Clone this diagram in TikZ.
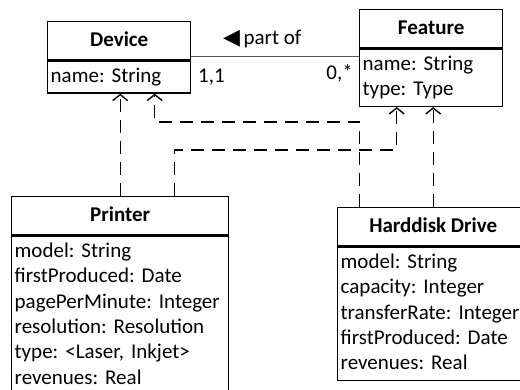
\documentclass[tikz,border=0pt]{standalone}
\usepackage{fontspec}
\setmainfont{Carlito}
\newfontfamily\symbolfont{DejaVu Sans}
\usetikzlibrary{positioning}
\usetikzlibrary{arrows.meta}

\begin{document}
\begin{tikzpicture}
[x=1pt,y=-1pt,%
  every node/.style={inner xsep=3pt,inner ysep=3pt},%
  head/.style={draw,line width=1.4pt,font=\bfseries,minimum height=38.5pt,%
    anchor=north west,execute at begin node=\strut},%
  body/.style={draw,line width=1.4pt,align=left,%
    execute at begin node=\strut,execute at end node=\strut},%
  real/.style={dash pattern=on 13pt off 8pt,line width=1.4pt,%
    -{Straight Barb[length=6pt,width=15pt,line width=1.4pt]}},%
  assoc/.style={line width=1.1pt,draw=black!65}]
\fontsize{21}{25.4}\selectfont\frenchspacing
\useasboundingbox (0,0) rectangle (520,390);
% classes
\node[head,minimum width=143pt] (devhead) at (47,21) {Device};
\node[body,text width=137pt,below=0pt of devhead] (devbody) {name: String};
\node[head,minimum width=143pt] (feathead) at (359,9) {Feature};
\node[body,text width=137pt,below=0pt of feathead] (featbody)
  {name: String\\type: Type};
\node[head,minimum width=217pt] (prthead) at (11,196) {Printer};
\node[body,text width=211pt,below=0pt of prthead] (prtbody)
  {model: String\\firstProduced: Date\\pagePerMinute: Integer\\%
   resolution: Resolution\\type: <Laser, Inkjet>\\revenues: Real};
\node[head,minimum width=191pt] (hddhead) at (337,207) {Harddisk Drive};
\node[body,text width=185pt,below=0pt of hddhead] (hddbody)
  {model: String\\capacity: Integer\\transferRate: Integer\\%
   firstProduced: Date\\revenues: Real};
% association
\coordinate (assocl) at ([yshift=4pt]devhead.south east);
\draw[assoc] (assocl) -- (assocl -| feathead.west);
\node[anchor=base west] (partof) at (220,45)
  {{\symbolfont\fontsize{22}{22}\selectfont ◀}\,part of};
\node[anchor=base west] (multdev) at (195,83) {1,1};
\node[anchor=base east] (multfeat) at (356,80) {0,*};
% realizations
\draw[real] (prthead.north) -- (prthead.north |- devbody.south);
\draw[real] ([xshift=54pt]prthead.north) -- ++(0,-46)
  -| ([xshift=-34.5pt]featbody.south);
\draw[real] ([xshift=-73.5pt]hddhead.north) -- ++(0,-85)
  -| ([xshift=35.5pt]devbody.south);
\draw[real] (hddhead.north) -- (hddhead.north |- featbody.south);
\end{tikzpicture}
\end{document}
